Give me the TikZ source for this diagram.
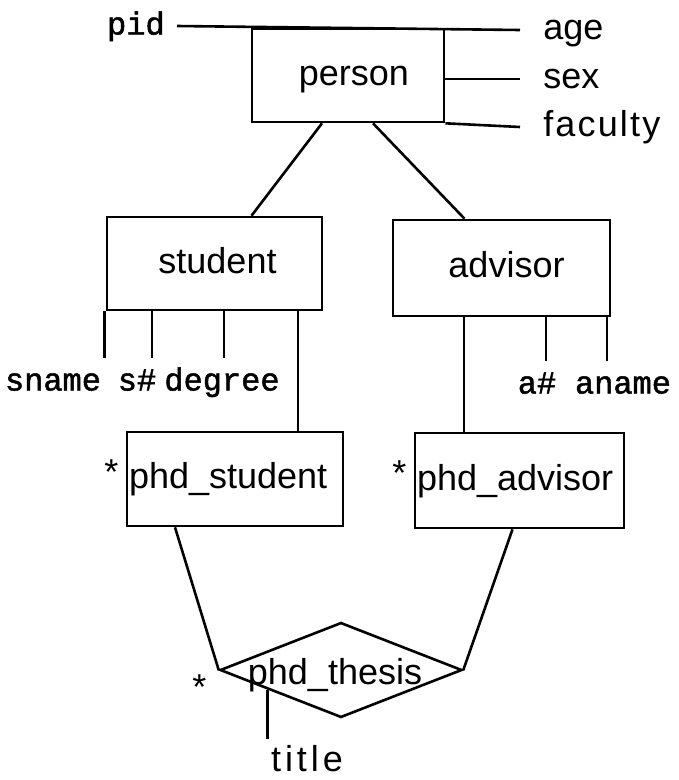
\documentclass[tikz,border=0pt]{standalone}
\usepackage{fontspec}
\setmainfont{Liberation Sans}
\newfontfamily\keyfont[FakeBold=1.5]{Liberation Mono}
\newfontfamily\wideA[LetterSpace=6]{Liberation Sans}
\newfontfamily\wideB[LetterSpace=11]{Liberation Sans}
\usetikzlibrary{calc,positioning,shapes.geometric}

\begin{document}
\begin{tikzpicture}[x=1pt,y=-1pt,line width=2.6pt,
            font=\fontsize{36}{40}\selectfont,
            entity/.style={draw,rectangle,inner sep=0pt,text height=26pt,text depth=7pt},
            relship/.style={draw,diamond,inner sep=0pt,minimum width=242pt,minimum height=95pt},
            attr/.style={inner sep=0pt,text height=26pt,text depth=7pt},
            keyattr/.style={inner sep=0pt,text height=23pt,text depth=6pt,font=\keyfont\fontsize{32}{40}\selectfont},
            starmark/.style={inner sep=1pt},
            attrline/.style={shorten >=8pt}]
            \useasboundingbox (0,0) rectangle (679,780);

            %person
            \node[entity,minimum width=192pt,minimum height=93pt] (person) at (348,75.5) {\hspace{12pt}person};
            \node[keyattr,anchor=east] (pid) at (166,26) {pid};
            \node[attr,anchor=west] (age) at (542,30) {age};
            \node[attr,anchor=west] (sex) at (542,79) {sex};
            \node[attr,anchor=west] (faculty) at (542,127) {\wideA faculty};
            \draw ([xshift=11pt]pid.east) -- ([xshift=-22pt]age.west);
            \draw (person.east |- sex.west) -- ([xshift=-22pt]sex.west);
            \draw (person.south east) -- ([xshift=-22pt]faculty.west);

            %student and advisor
            \node[entity,minimum width=215pt,minimum height=93pt] (student) at (214.5,263.5) {\hspace{6pt}student};
            \node[entity,minimum width=217pt,minimum height=96pt] (advisor) at (501.5,268) {\hspace{10pt}advisor};
            \draw ([xshift=-26pt]person.south) -- ([xshift=37pt]student.north);
            \draw ([xshift=25pt]person.south) -- ([xshift=-37pt]advisor.north);

            \node[keyattr] (sname) at (53,382) {sname};
            \node[keyattr] (snum) at (137,382) {s\#};
            \node[keyattr] (degree) at (222,382) {degree};
            \draw[attrline] ([xshift=-110pt]student.south) -- ([xshift=-110pt]student.south |- sname.north);
            \draw[attrline] ([xshift=-62.5pt]student.south) -- ([xshift=-62.5pt]student.south |- snum.north);
            \draw[attrline] ([xshift=9.5pt]student.south) -- ([xshift=9.5pt]student.south |- degree.north);

            \node[keyattr] (anum) at (537,385) {a\#};
            \node[keyattr] (aname) at (623,385) {aname};
            \draw[attrline] ([xshift=44.5pt]advisor.south) -- ([xshift=44.5pt]advisor.south |- anum.north);
            \draw[attrline] ([xshift=105.5pt]advisor.south) -- ([xshift=105.5pt]advisor.south |- aname.north);

            %phd subclasses
            \node[entity,text width=212pt,inner xsep=2pt,minimum height=94pt,align=left] (phdstudent) at (235,479) {phd\_student};
            \node[entity,text width=205pt,inner xsep=2pt,minimum height=95pt,align=left] (phdadvisor) at (519.5,480.5) {phd\_advisor};
            \node[starmark,left=5pt of phdstudent,yshift=7pt] (starS) {*};
            \node[starmark,left=5pt of phdadvisor,yshift=7pt] (starA) {*};
            \draw ([xshift=83.5pt]student.south) -- ([xshift=83.5pt]student.south |- phdstudent.north);
            \draw ([xshift=-37.5pt]advisor.south) -- ([xshift=-37.5pt]advisor.south |- phdadvisor.north);

            %thesis
            \node[relship,label={[xshift=-6pt,yshift=-5pt]center:phd\_thesis}] (thesis) at (341,670) {};
            \node[starmark,left=10pt of thesis.west,yshift=-17pt] (starT) {*};
            \draw ([xshift=-60pt]phdstudent.south) -- (thesis.west);
            \draw ([xshift=-7pt]phdadvisor.south) -- (thesis.east);

            \node[attr] (title) at (307,762) {\wideB title};
            \coordinate (tA) at ($(thesis.west)!0.4!(thesis.south)$);
            \draw[shorten >=5pt] (tA) -- (tA |- title.north);
        \end{tikzpicture}
\end{document}
